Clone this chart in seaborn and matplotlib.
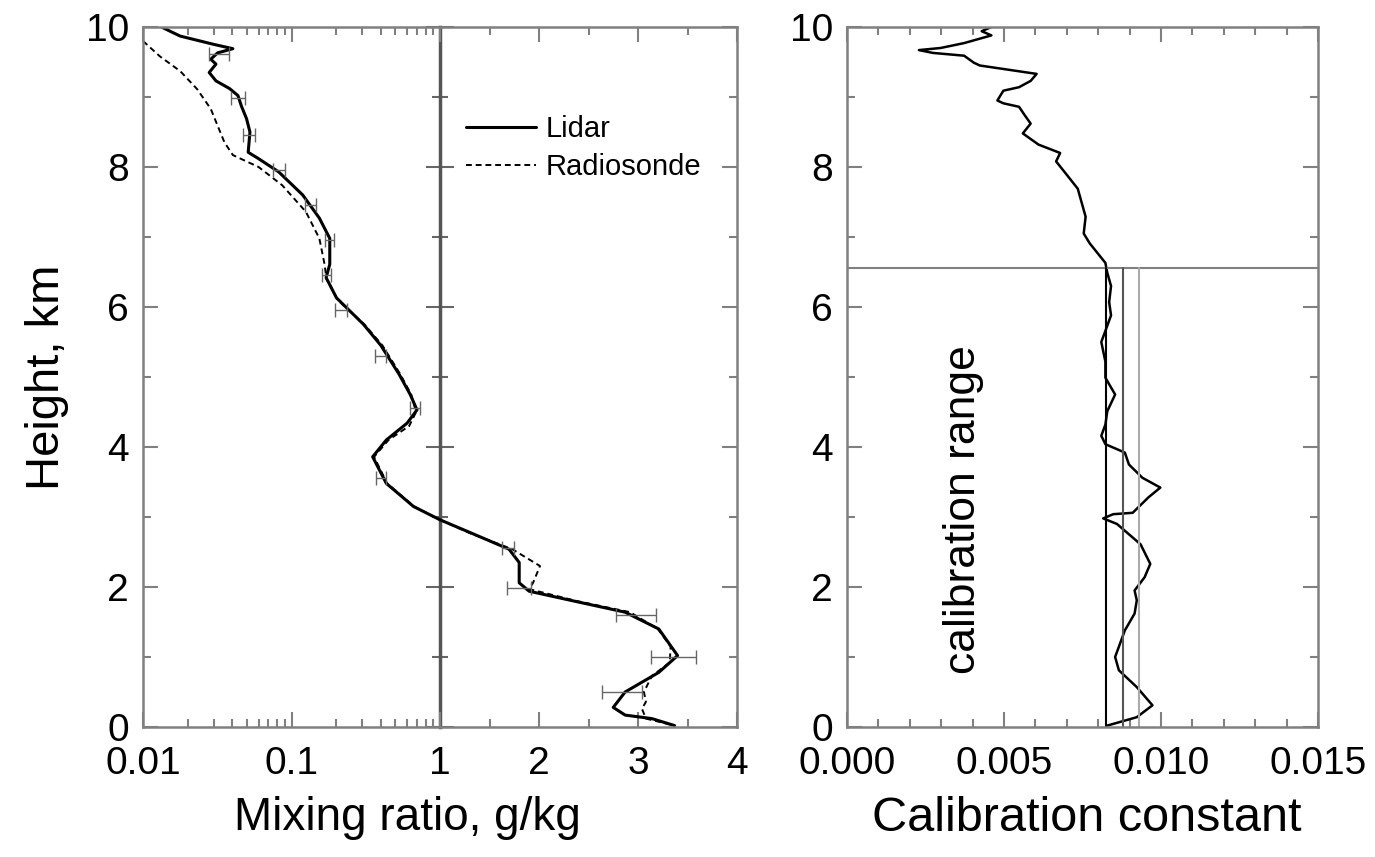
import numpy as np
import pandas as pd
import matplotlib
matplotlib.use('Agg')
import matplotlib.pyplot as plt
import seaborn as sns
from matplotlib.ticker import FixedLocator, MultipleLocator, NullFormatter, FixedFormatter

# Lidar / radiosonde mixing ratio profiles (height km, g/kg)
lidar_h = [10.07, 9.94, 9.87, 9.75, 9.69, 9.63, 9.54, 9.47, 9.35, 9.23,
           9.12, 9.02, 8.87, 8.69, 8.50, 8.21, 8.12, 7.93, 7.60, 7.27,
           6.98, 6.61, 6.42, 6.13, 5.75, 5.45, 5.04, 4.75, 4.53, 4.34,
           4.10, 3.86, 3.48, 3.15, 2.96, 2.77, 2.54, 2.35, 2.06, 1.94,
           1.80, 1.64, 1.40, 1.02, 0.78, 0.50, 0.28, 0.17, 0.12, 0.02]
lidar_q = [0.0114, 0.0152, 0.0178, 0.0302, 0.0403, 0.0318, 0.0286, 0.031, 0.0279, 0.031,
           0.0383, 0.0436, 0.046, 0.0498, 0.0525, 0.0511, 0.0599, 0.082, 0.119, 0.154,
           0.181, 0.181, 0.171, 0.201, 0.306, 0.40, 0.53, 0.63, 0.70, 0.60,
           0.435, 0.352, 0.435, 0.663, 1.0, 1.317, 1.697, 1.80, 1.80, 1.90,
           2.35, 2.87, 3.21, 3.40, 3.21, 2.87, 2.75, 2.87, 3.14, 3.37]

rs_h = [9.80, 9.58, 9.37, 9.11, 8.83, 8.59, 8.35, 8.17, 8.00, 7.74,
        7.36, 6.98, 6.61, 6.40, 6.10, 5.75, 5.45, 5.04, 4.75, 4.50,
        4.30, 4.10, 3.86, 3.48, 3.15, 2.96, 2.77, 2.54, 2.30, 2.06,
        1.97, 1.80, 1.64, 1.40, 1.15, 0.92, 0.73, 0.50, 0.36, 0.26,
        0.12, 0.02]
rs_q = [0.0100, 0.013, 0.0178, 0.0232, 0.0286, 0.0318, 0.0354, 0.0403, 0.060, 0.0865,
        0.125, 0.154, 0.167, 0.172, 0.205, 0.31, 0.41, 0.54, 0.64, 0.69,
        0.62, 0.45, 0.36, 0.44, 0.67, 1.0, 1.30, 1.73, 2.01, 1.94,
        1.90, 2.38, 2.92, 3.20, 3.33, 3.32, 3.14, 3.06, 3.08, 3.04,
        3.08, 3.37]

# lidar error bars
eb_h = [9.62, 8.98, 8.45, 7.95, 7.45, 6.95, 6.45, 5.95, 5.30, 4.55, 3.55, 2.55, 1.98, 1.60, 1.00, 0.50]
eb_q = [0.033, 0.044, 0.052, 0.083, 0.135, 0.18, 0.172, 0.215, 0.40, 0.68, 0.40, 1.69, 1.80, 2.98, 3.36, 2.84]
eb_err = [0.005, 0.005, 0.005, 0.008, 0.012, 0.012, 0.012, 0.02, 0.035, 0.05, 0.03, 0.06, 0.12, 0.20, 0.23, 0.20]

# calibration constant profile
cal_h = [10.03, 10.0, 9.94, 9.88, 9.77, 9.70, 9.67, 9.63, 9.59, 9.49,
         9.45, 9.33, 9.23, 9.14, 9.09, 8.95, 8.91, 8.86, 8.74, 8.62,
         8.48, 8.32, 8.20, 8.08, 7.90, 7.69, 7.29, 7.05, 6.91, 6.63,
         6.49, 6.30, 6.07, 5.88, 5.50, 5.22, 4.99, 4.75, 4.51, 4.32,
         4.16, 4.04, 3.92, 3.75, 3.56, 3.42, 3.28, 3.06, 3.04, 2.98,
         2.90, 2.61, 2.33, 2.14, 1.95, 1.81, 1.62, 1.38, 1.00, 0.81,
         0.57, 0.31, 0.14, 0.02]
cal_c = [0.00441, 0.0046, 0.00429, 0.0046, 0.00373, 0.00298, 0.00229, 0.00273, 0.00373, 0.00404,
         0.00423, 0.00604, 0.00585, 0.00548, 0.00498, 0.00479, 0.00498, 0.00548, 0.00566, 0.00585,
         0.0056, 0.0061, 0.00679, 0.00666, 0.00698, 0.00735, 0.0076, 0.00754, 0.00773, 0.00823,
         0.00829, 0.00841, 0.00835, 0.00841, 0.0081, 0.00823, 0.00823, 0.00854, 0.00829, 0.00823,
         0.0081, 0.00823, 0.00885, 0.00898, 0.00941, 0.00998, 0.0096, 0.0091, 0.00848, 0.00816,
         0.0086, 0.00935, 0.00966, 0.00948, 0.00916, 0.00923, 0.00916, 0.00885, 0.00854, 0.00866,
         0.00923, 0.00973, 0.00923, 0.00829]

cal_top = 6.55
cal_lines = [0.00825, 0.00878, 0.0093]
cal_colors = ['black', '#555555', '#aaaaaa']

x_ticks = [0.01, 0.1, 1, 2, 3, 4]
x_labels = ['0.01', '0.1', '1', '2', '3', '4']
c_ticks = [0, 0.005, 0.01, 0.015]
c_labels = ['0.000', '0.005', '0.010', '0.015']

sns.set_style('ticks')
plt.rcParams['font.family'] = ['Liberation Sans', 'DejaVu Sans']
plt.rcParams['text.color'] = 'black'
plt.rcParams['axes.labelcolor'] = 'black'
plt.rcParams['xtick.labelcolor'] = 'black'
plt.rcParams['ytick.labelcolor'] = 'black'

GRAY = '#808080'


# log scale below 1, linear scale above 1
def fwd(x):
    x = np.asarray(x, dtype=float)
    return np.where(x <= 1, np.log10(np.clip(x, 1e-9, None)), (x - 1) * 2 / 3)


def inv(y):
    y = np.asarray(y, dtype=float)
    return np.where(y <= 0, 10.0 ** np.clip(y, -300, 0), 1 + 1.5 * y)


fig = plt.figure(figsize=(13.75, 8.57), dpi=100)
ax1 = fig.add_axes([0.104, 0.1517, 0.432, 0.8168])
ax2 = fig.add_axes([0.616, 0.1517, 0.3425, 0.8168])

ax1.set_xscale('function', functions=(fwd, inv))

df_lid = pd.DataFrame({'q': lidar_q, 'h': lidar_h})
df_rs = pd.DataFrame({'q': rs_q, 'h': rs_h})

sns.lineplot(data=df_rs, x='q', y='h', sort=False, estimator=None, color='black',
             lw=1.4, dashes=(3, 2), ax=ax1, label='Radiosonde')
sns.lineplot(data=df_lid, x='q', y='h', sort=False, estimator=None, color='black',
             lw=2.2, ax=ax1, label='Lidar')
ax1.errorbar(eb_q, eb_h, xerr=eb_err, fmt='none', ecolor='#666666', elinewidth=1,
             capsize=5, capthick=1)

ax1.set_xlim(0.01, 4)
ax1.set_ylim(0, 10)
ax1.xaxis.set_major_locator(FixedLocator(x_ticks))
ax1.xaxis.set_major_formatter(FixedFormatter(x_labels))
minors = [m * d for d in (0.01, 0.1) for m in range(2, 10)] + [1.5, 2.5, 3.5]
ax1.xaxis.set_minor_locator(FixedLocator(minors))
ax1.xaxis.set_minor_formatter(NullFormatter())
ax1.yaxis.set_major_locator(MultipleLocator(2))
ax1.yaxis.set_minor_locator(MultipleLocator(1))
ax1.set_xlabel('Mixing ratio, g/kg', fontsize=33)
ax1.set_ylabel('Height, km', fontsize=34, labelpad=12)
ax1.xaxis.set_label_coords(0.445, -0.098)

# middle axis at x = 1
sec = ax1.secondary_yaxis(0.5)
sec.yaxis.set_major_locator(MultipleLocator(2))
sec.yaxis.set_minor_locator(MultipleLocator(1))
sec.tick_params(which='both', direction='inout', labelleft=False, labelright=False,
                color='#666666', width=1.5)
sec.tick_params(which='major', length=20)
sec.tick_params(which='minor', length=11)
for sp in sec.spines.values():
    sp.set_color('#555555')
    sp.set_linewidth(2.5)

# Lidar first in legend
handles, labels = ax1.get_legend_handles_labels()
order = [labels.index('Lidar'), labels.index('Radiosonde')]
ax1.legend([handles[i] for i in order], [labels[i] for i in order], loc='upper left',
           bbox_to_anchor=(0.52, 0.895), frameon=False, fontsize=21,
           handlelength=2.4, handletextpad=0.3, labelspacing=0.35, borderpad=0)

# calibration panel
df_cal = pd.DataFrame({'c': cal_c, 'h': cal_h})
sns.lineplot(data=df_cal, x='c', y='h', sort=False, estimator=None, color='black',
             lw=1.8, ax=ax2)
ax2.axhline(cal_top, color=GRAY, lw=1.5)
for c, col in zip(cal_lines, cal_colors):
    ax2.plot([c, c], [0, cal_top], color=col, lw=1.5)
ax2.text(0.0037, 3.1, 'calibration range', rotation=90, fontsize=32,
         ha='center', va='center')
ax2.set_xlim(0, 0.015)
ax2.set_ylim(0, 10)
ax2.set_xticks(c_ticks)
ax2.set_xticklabels(c_labels)
ax2.xaxis.set_minor_locator(MultipleLocator(0.001))
ax2.yaxis.set_major_locator(MultipleLocator(2))
ax2.yaxis.set_minor_locator(MultipleLocator(1))
ax2.set_xlabel('Calibration constant', fontsize=35)
ax2.set_ylabel('')
ax2.xaxis.set_label_coords(0.51, -0.098)

for ax in (ax1, ax2):
    for sp in ax.spines.values():
        sp.set_visible(True)
        sp.set_color(GRAY)
        sp.set_linewidth(1.8)
    ax.tick_params(which='both', direction='in', top=True, right=True,
                   color=GRAY, width=1.5, labelsize=28)
    ax.tick_params(which='major', length=11)
    ax.tick_params(axis='x', which='major', pad=14)
    ax.tick_params(axis='y', which='major', pad=10)
    ax.tick_params(which='minor', length=6)

fig.savefig('out.png', dpi=100)
